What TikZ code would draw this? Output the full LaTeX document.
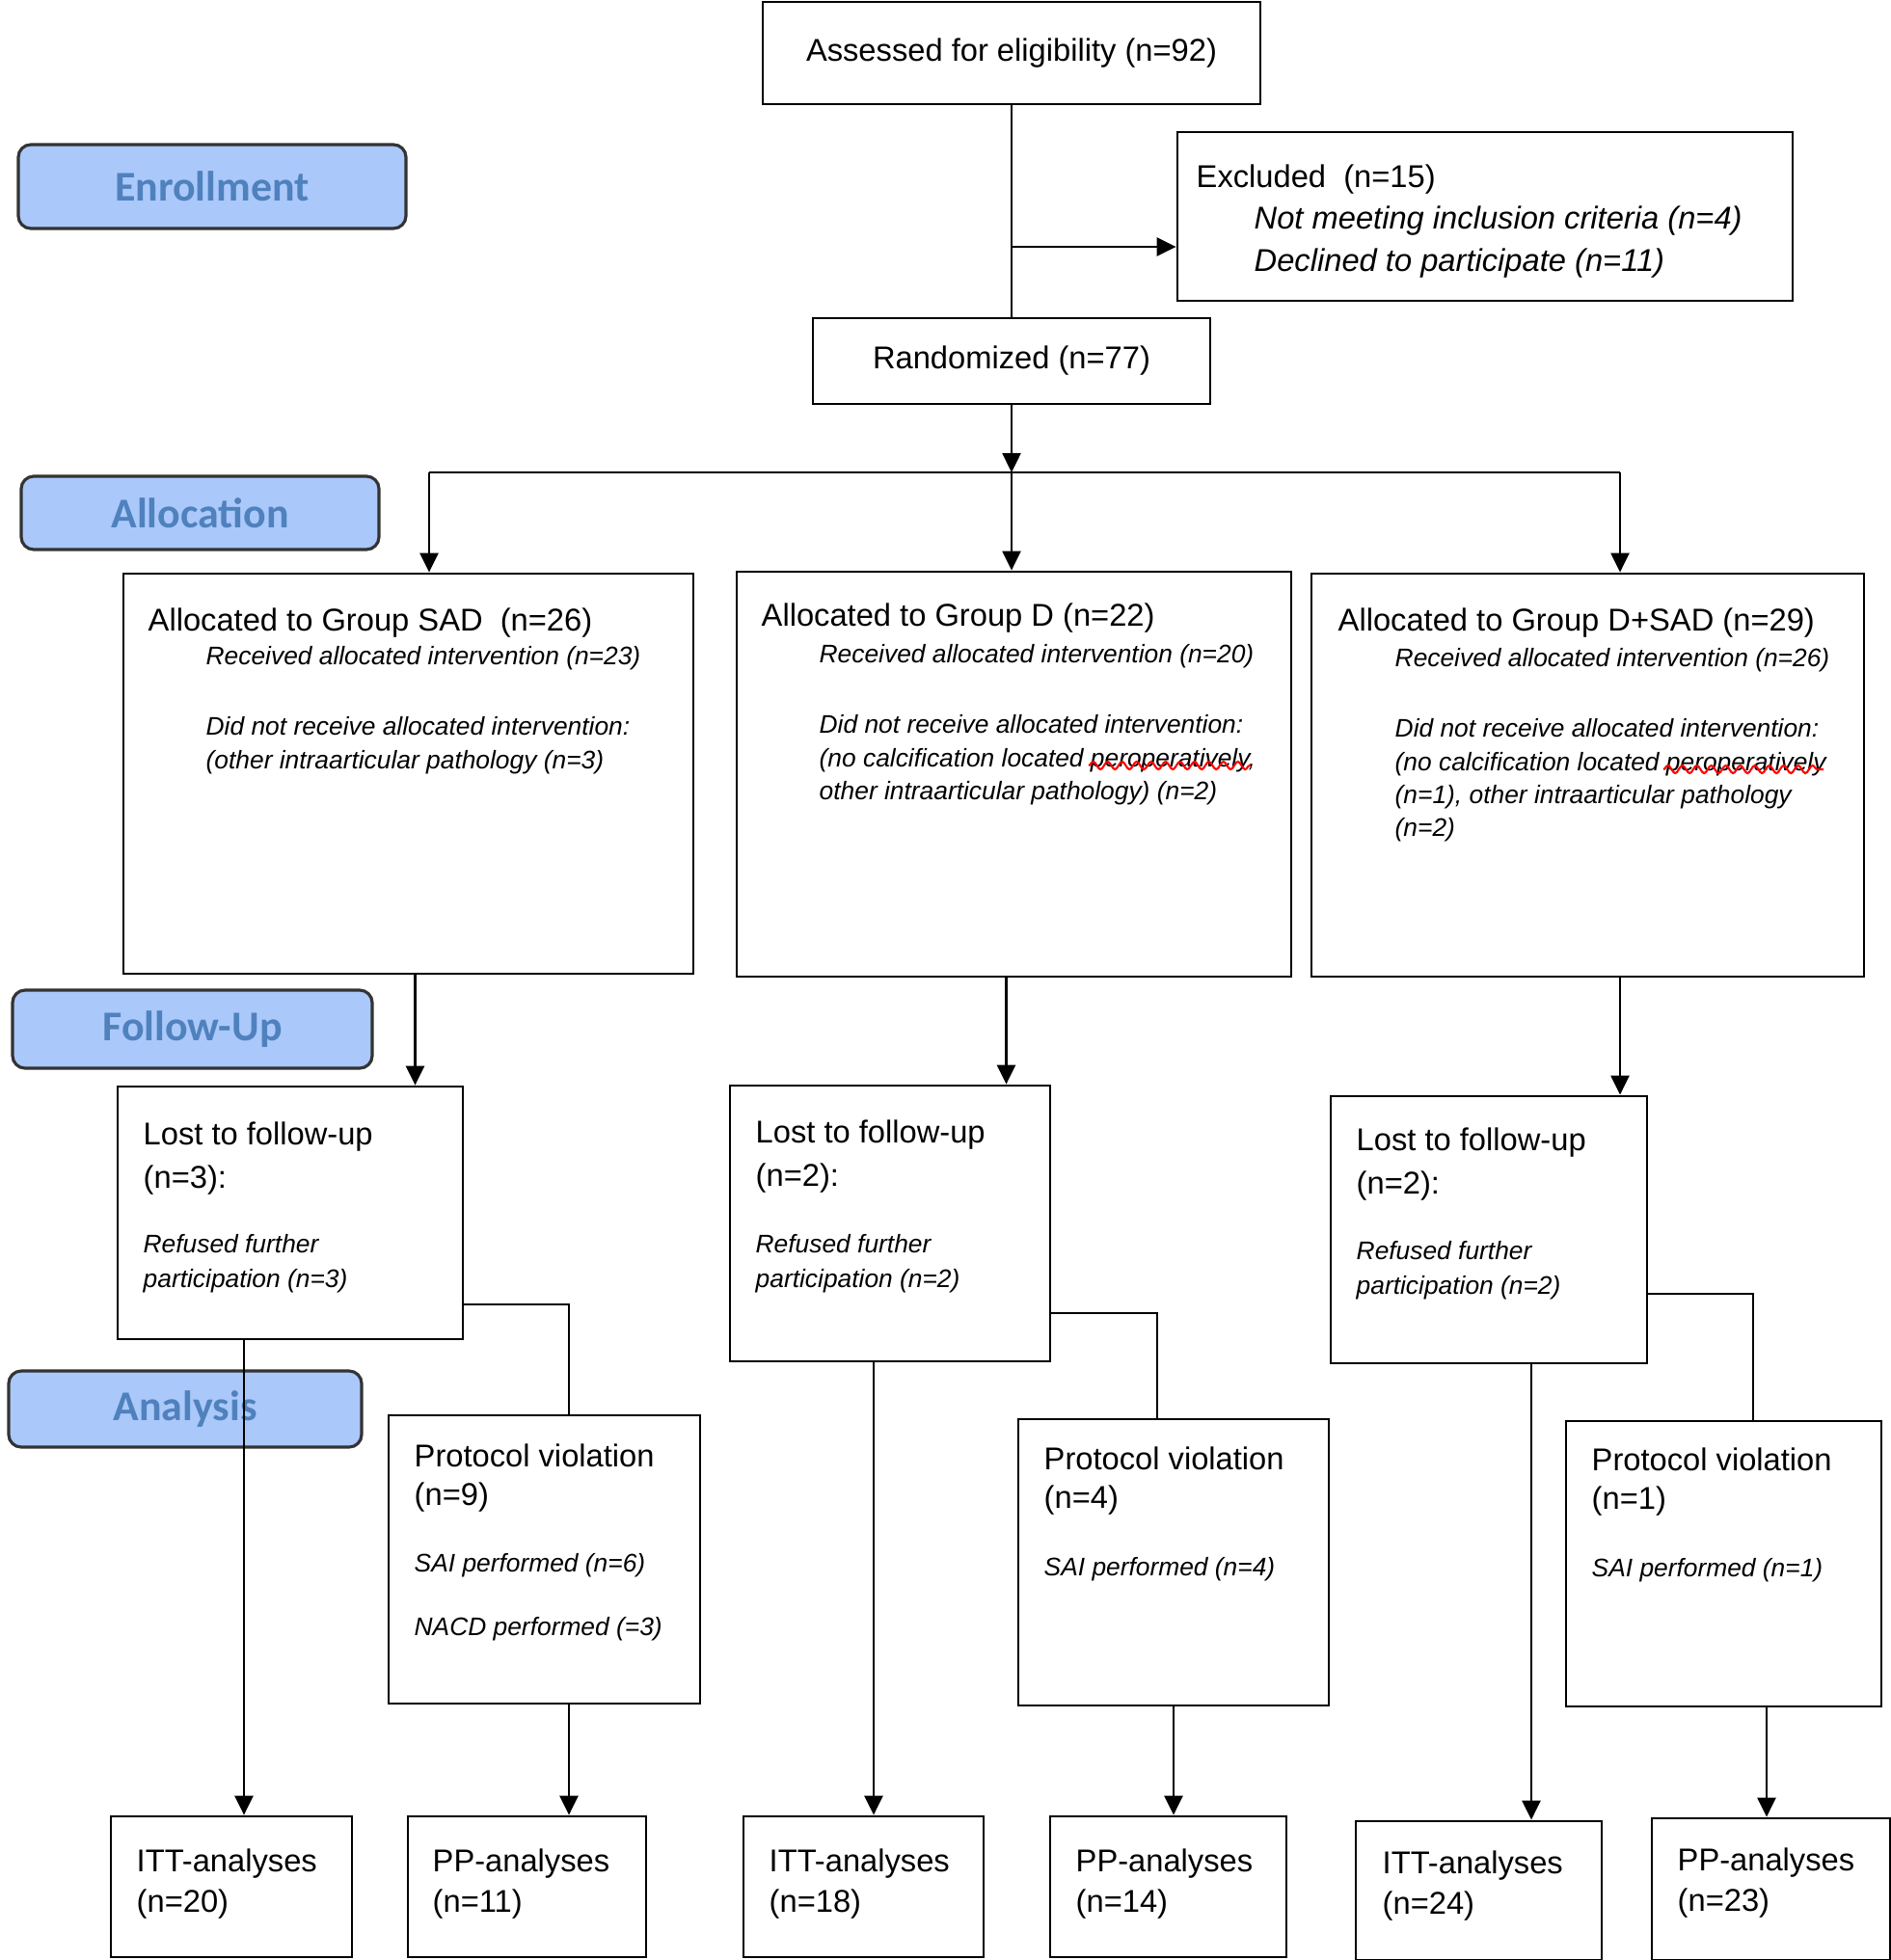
\documentclass[tikz,border=0pt]{standalone}
\usepackage{fontspec}
\setmainfont{Liberation Sans}
\newfontfamily\phasefont{Carlito}
\usetikzlibrary{arrows.meta,decorations.pathmorphing}
\definecolor{phasefill}{RGB}{170,200,250}
\definecolor{phasetext}{RGB}{79,129,189}
\newcommand\txtlines[1]{\begin{tabular}[t]{@{}l@{}}#1\end{tabular}}
\begin{document}
\begin{tikzpicture}[x=1mm,y=-1mm,
  >={Triangle[length=2mm,width=1.9mm]},
  box/.style={draw,line width=0.8pt,inner sep=0pt,font=\fontsize{9.3}{12}\selectfont},
  phase/.style={draw=black!80,line width=0.9pt,rounded corners=1.3mm,fill=phasefill,text=phasetext,font=\phasefont\fontsize{12.5}{15}\selectfont\bfseries},
  txt/.style={anchor=base west,inner sep=0pt,font=\fontsize{9.3}{12.5}\selectfont},
  note/.style={anchor=base west,inner sep=0pt,font=\fontsize{7.5}{9.8}\selectfont\itshape},
  squiggle/.style={draw=red,line width=0.6pt,decorate,decoration={snake,amplitude=0.4mm,segment length=1.5mm}}]
\useasboundingbox (0,0) rectangle (196,203.3);

\node[phase,minimum width=40.2mm,minimum height=8.7mm] (enroll) at (22.0,19.35) {Enrollment};
\node[phase,minimum width=37.1mm,minimum height=7.6mm] (alloc) at (20.75,53.2) {Allocation};
\node[phase,minimum width=37.3mm,minimum height=8.1mm] (follow) at (19.95,106.75) {Follow-Up};
\node[phase,minimum width=36.6mm,minimum height=7.9mm] (analysis) at (19.2,146.15) {Analysis};

\node[box,minimum width=51.6mm,minimum height=10.6mm] (ass) at (104.9,5.5) {Assessed for eligibility (n=92)};
\node[box,minimum width=63.8mm,minimum height=17.5mm] (excl) at (154.0,22.45) {};
\node[txt] (excltxt) at (124.0,19.4) {Excluded~~(n=15)};
\node[txt,font=\fontsize{9.3}{12.8}\selectfont\itshape] (exclnote) at (130.0,23.7) {\txtlines{Not meeting inclusion criteria (n=4)\\Declined to participate (n=11)}};
\node[box,minimum width=41.2mm,minimum height=8.9mm] (rand) at (104.9,37.45) {Randomized (n=77)};

\node[box,minimum width=59.1mm,minimum height=41.5mm] (sad) at (42.35,80.25) {};
\node[txt] (sadtxt) at (15.3,65.4) {Allocated to Group SAD~~(n=26)};
\node[note] (sadnote) at (21.3,68.95) {\txtlines{Received allocated intervention (n=23)\\[11pt]Did not receive allocated intervention:\\(other intraarticular pathology (n=3)}};
\node[box,minimum width=57.5mm,minimum height=42.0mm] (d) at (105.15,80.3) {};
\node[txt] (dtxt) at (78.9,64.9) {Allocated to Group D (n=22)};
\node[note] (dnote) at (84.9,68.75) {\txtlines{Received allocated intervention (n=20)\\[11pt]Did not receive allocated intervention:\\(no calcification located peroperatively,\\other intraarticular pathology) (n=2)}};
\node[box,minimum width=57.3mm,minimum height=41.8mm] (dsad) at (164.65,80.4) {};
\node[txt] (dsadtxt) at (138.7,65.4) {Allocated to Group D+SAD (n=29)};
\node[note] (dsadnote) at (144.6,69.15) {\txtlines{Received allocated intervention (n=26)\\[11pt]Did not receive allocated intervention:\\(no calcification located peroperatively\\(n=1), other intraarticular pathology\\(n=2)}};

\node[box,minimum width=35.8mm,minimum height=26.2mm] (l1) at (30.1,125.8) {};
\node[txt,font=\fontsize{9.3}{12.8}\selectfont] (l1txt) at (14.8,118.7) {\txtlines{Lost to follow-up\\(n=3):}};
\node[note,font=\fontsize{7.5}{10.3}\selectfont\itshape] (l1note) at (14.8,129.95) {\txtlines{Refused further\\participation (n=3)}};
\node[box,minimum width=33.2mm,minimum height=28.6mm] (l2) at (92.3,126.9) {};
\node[txt,font=\fontsize{9.3}{12.8}\selectfont] (l2txt) at (78.3,118.5) {\txtlines{Lost to follow-up\\(n=2):}};
\node[note,font=\fontsize{7.5}{10.3}\selectfont\itshape] (l2note) at (78.3,129.95) {\txtlines{Refused further\\participation (n=2)}};
\node[box,minimum width=32.8mm,minimum height=27.7mm] (l3) at (154.4,127.55) {};
\node[txt,font=\fontsize{9.3}{12.8}\selectfont] (l3txt) at (140.6,119.3) {\txtlines{Lost to follow-up\\(n=2):}};
\node[note,font=\fontsize{7.5}{10.3}\selectfont\itshape] (l3note) at (140.6,130.65) {\txtlines{Refused further\\participation (n=2)}};

\node[box,minimum width=32.3mm,minimum height=29.9mm] (p1) at (56.45,161.75) {};
\node[txt,font=\fontsize{9.3}{11.5}\selectfont] (p1txt) at (42.9,152.1) {\txtlines{Protocol violation\\(n=9)}};
\node[note] (p1note) at (42.9,163.05) {\txtlines{SAI performed (n=6)\\[9pt]NACD performed (=3)}};
\node[box,minimum width=32.2mm,minimum height=29.7mm] (p2) at (121.7,162.05) {};
\node[txt,font=\fontsize{9.3}{11.5}\selectfont] (p2txt) at (108.2,152.4) {\txtlines{Protocol violation\\(n=4)}};
\node[note] (p2note) at (108.2,163.45) {SAI performed (n=4)};
\node[box,minimum width=32.7mm,minimum height=29.6mm] (p3) at (178.75,162.2) {};
\node[txt,font=\fontsize{9.3}{11.5}\selectfont] (p3txt) at (165.0,152.5) {\txtlines{Protocol violation\\(n=1)}};
\node[note] (p3note) at (165.0,163.55) {SAI performed (n=1)};

\node[box,minimum width=25.0mm,minimum height=14.6mm] (itt1) at (24.0,195.7) {};
\node[txt,font=\fontsize{9.3}{12}\selectfont] (itt1txt) at (14.1,194.1) {\txtlines{ITT-analyses\\(n=20)}};
\node[box,minimum width=24.7mm,minimum height=14.6mm] (pp1) at (54.65,195.7) {};
\node[txt,font=\fontsize{9.3}{12}\selectfont] (pp1txt) at (44.8,194.1) {\txtlines{PP-analyses\\(n=11)}};
\node[box,minimum width=24.9mm,minimum height=14.6mm] (itt2) at (89.55,195.7) {};
\node[txt,font=\fontsize{9.3}{12}\selectfont] (itt2txt) at (79.7,194.1) {\txtlines{ITT-analyses\\(n=18)}};
\node[box,minimum width=24.5mm,minimum height=14.6mm] (pp2) at (121.15,195.7) {};
\node[txt,font=\fontsize{9.3}{12}\selectfont] (pp2txt) at (111.5,194.1) {\txtlines{PP-analyses\\(n=14)}};
\node[box,minimum width=25.5mm,minimum height=14.4mm] (itt3) at (153.35,196.1) {};
\node[txt,font=\fontsize{9.3}{12}\selectfont] (itt3txt) at (143.3,194.3) {\txtlines{ITT-analyses\\(n=24)}};
\node[box,minimum width=24.7mm,minimum height=14.7mm] (pp3) at (183.65,195.95) {};
\node[txt,font=\fontsize{9.3}{12}\selectfont] (pp3txt) at (173.9,194.0) {\txtlines{PP-analyses\\(n=23)}};

\coordinate (split) at (104.9,25.6);
\coordinate (bar) at (104.9,49.0);
\coordinate (barl) at (44.5,49.0);
\coordinate (barr) at (168.0,49.0);

\path[draw,line width=0.7pt] (ass) -- (rand);
\path[draw,line width=0.7pt,->] (split) -- (split -| excl.west);
\path[draw,line width=0.7pt,->] (rand) -- (bar);
\path[draw,line width=0.7pt] (barl) -- (barr);
\path[draw,line width=0.7pt,->] (barl) -- (barl |- sad.north);
\path[draw,line width=0.7pt,->] (bar) -- (bar |- d.north);
\path[draw,line width=0.7pt,->] (barr) -- (barr |- dsad.north);

\path[draw,line width=0.7pt,->] (43.05,0 |- sad.south) -- (43.05,0 |- l1.north);
\path[draw,line width=0.7pt,->] (104.35,0 |- d.south) -- (104.35,0 |- l2.north);
\path[draw,line width=0.7pt,->] (168.0,0 |- dsad.south) -- (168.0,0 |- l3.north);

\path[draw,line width=0.7pt] (l1.east |- 0,135.3) -| (59.0,0 |- p1.north);
\path[draw,line width=0.7pt] (l2.east |- 0,136.2) -| (120.0,0 |- p2.north);
\path[draw,line width=0.7pt] (l3.east |- 0,134.2) -| (181.8,0 |- p3.north);

\path[draw,line width=0.7pt,->] (25.3,0 |- l1.south) -- (25.3,0 |- itt1.north);
\path[draw,line width=0.7pt,->] (90.6,0 |- l2.south) -- (90.6,0 |- itt2.north);
\path[draw,line width=0.7pt,->] (158.8,0 |- l3.south) -- (158.8,0 |- itt3.north);
\path[draw,line width=0.7pt,->] (59.0,0 |- p1.south) -- (59.0,0 |- pp1.north);
\path[draw,line width=0.7pt,->] (121.7,0 |- p2.south) -- (121.7,0 |- pp2.north);
\path[draw,line width=0.7pt,->] (183.2,0 |- p3.south) -- (183.2,0 |- pp3.north);

\path[squiggle] (112.9,79.4) -- (129.7,79.4);
\path[squiggle] (172.5,79.8) -- (189.1,79.8);
\end{tikzpicture}
\end{document}
